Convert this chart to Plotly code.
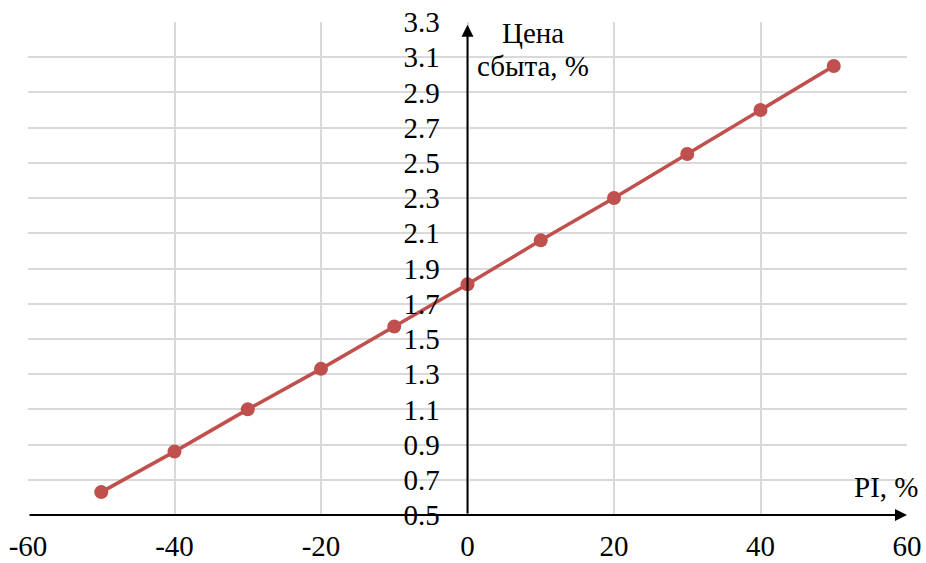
import plotly.graph_objects as go

# Selling price vs. price index
pi_pct = [-50, -40, -30, -20, -10, 0, 10, 20, 30, 40, 50]
price_pct = [0.63, 0.86, 1.10, 1.33, 1.57, 1.81, 2.06, 2.30, 2.55, 2.80, 3.05]

x_ticks = [-60, -40, -20, 0, 20, 40, 60]
y_ticks = [0.5, 0.7, 0.9, 1.1, 1.3, 1.5, 1.7, 1.9, 2.1, 2.3, 2.5, 2.7, 2.9, 3.1, 3.3]

FONT = "Liberation Serif"
SIZE = 29
RED = "#C0504D"
GRID = "#D9D9D9"

fig = go.Figure()
fig.add_trace(go.Scatter(
    x=pi_pct, y=price_pct, mode="lines+markers",
    line=dict(color=RED, width=3.5),
    marker=dict(color=RED, size=14),
    showlegend=False, cliponaxis=False,
))

# Axis arrows
fig.add_annotation(x=60, y=0.5, ax=-60, ay=0.5, xref="x", yref="y", axref="x", ayref="y",
                   showarrow=True, arrowhead=2, arrowsize=1.2, arrowwidth=2, arrowcolor="black", text="")
fig.add_annotation(x=0, y=3.285, ax=0, ay=0.5, xref="x", yref="y", axref="x", ayref="y",
                   showarrow=True, arrowhead=2, arrowsize=1.2, arrowwidth=2, arrowcolor="black", text="")

# Axis titles
title_font = dict(family=FONT, size=SIZE, color="black")
fig.add_annotation(x=9.0, y=3.237, xref="x", yref="y", text="Цена", showarrow=False,
                   xanchor="center", yanchor="middle", font=title_font)
fig.add_annotation(x=9.0, y=3.05, xref="x", yref="y", text="сбыта, %", showarrow=False,
                   xanchor="center", yanchor="middle", font=title_font)
fig.add_annotation(x=60, y=0.5, xref="x", yref="y", text="PI, %", showarrow=False,
                   xanchor="right", yanchor="bottom", font=title_font,
                   yshift=10, xshift=13)

fig.update_layout(
    width=926, height=563,
    margin=dict(l=28, r=19, t=22, b=48),
    plot_bgcolor="white", paper_bgcolor="white",
    font=dict(family=FONT, size=SIZE, color="black"),
    xaxis=dict(range=[-60, 60], tickvals=x_ticks, ticktext=[str(v) for v in x_ticks],
               showgrid=True, gridcolor=GRID, gridwidth=1.5, zeroline=False, showline=False,
               ticks="outside", ticklen=5, tickcolor="rgba(0,0,0,0)", automargin=False,
               tickfont=dict(family=FONT, size=SIZE)),
    yaxis=dict(range=[0.5, 3.3], tickvals=y_ticks, ticktext=[f"{v:.1f}" for v in y_ticks],
               showgrid=True, gridcolor=GRID, gridwidth=1.5, zeroline=False, showline=False,
               anchor="free", position=0.5, automargin=False,
               ticks="outside", ticklen=22, tickcolor="rgba(0,0,0,0)",
               tickfont=dict(family=FONT, size=SIZE)),
)

fig.write_html("out.html")
